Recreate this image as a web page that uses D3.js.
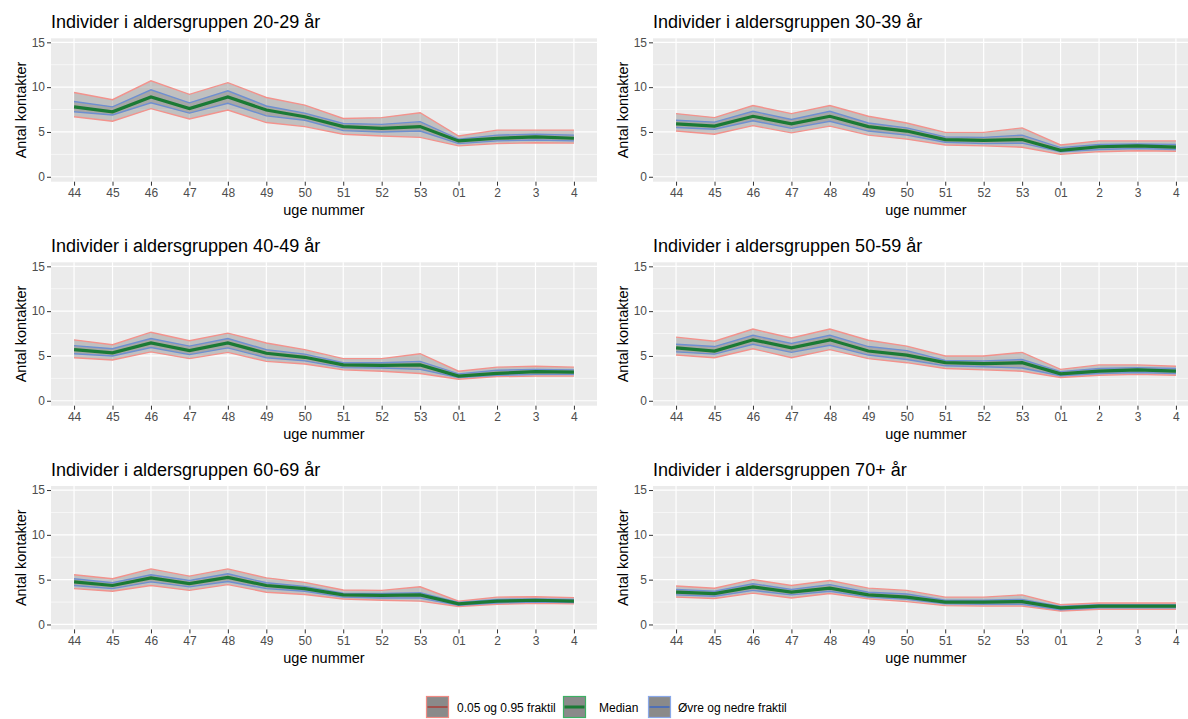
<!DOCTYPE html>
<html>
<head>
<meta charset="utf-8">
<script src="https://cdn.jsdelivr.net/npm/d3@7"></script>
<style>
  body { margin: 0; background: #fff; }
  svg { display: block; font-family: "Liberation Sans", Arial, sans-serif; }
</style>
</head>
<body>
<script>
const weeks = ["44", "45", "46", "47", "48", "49", "50", "51", "52", "53", "01", "2", "3", "4"];
const groups = ["20-29", "30-39", "40-49", "50-59", "60-69", "70+"];
const yTicks = [0, 5, 10, 15];

// 0.95 fraktil
const p95 = [
  [9.4, 8.6, 10.7, 9.2, 10.5, 8.85, 8.0, 6.5, 6.6, 7.15, 4.55, 5.2, 5.2, 5.2],
  [7.05, 6.6, 7.95, 7.05, 7.95, 6.75, 6.0, 4.95, 4.95, 5.45, 3.55, 4.0, 4.0, 4.0],
  [6.8, 6.25, 7.65, 6.7, 7.55, 6.45, 5.7, 4.7, 4.7, 5.25, 3.3, 3.75, 3.85, 3.75],
  [7.1, 6.65, 8.0, 7.0, 8.0, 6.75, 6.1, 5.0, 5.0, 5.4, 3.5, 4.0, 4.0, 3.85],
  [5.55, 5.1, 6.2, 5.4, 6.2, 5.2, 4.7, 3.85, 3.8, 4.2, 2.6, 3.05, 3.1, 3.0],
  [4.3, 4.05, 5.0, 4.35, 4.9, 4.05, 3.8, 3.05, 3.05, 3.3, 2.2, 2.4, 2.4, 2.4]
];
// øvre fraktil
const q75 = [
  [8.4, 7.8, 9.7, 8.25, 9.6, 7.9, 7.1, 5.95, 5.85, 6.15, 4.2, 4.65, 4.75, 4.65],
  [6.3, 6.1, 7.3, 6.4, 7.3, 6.0, 5.45, 4.45, 4.4, 4.65, 3.25, 3.6, 3.65, 3.6],
  [6.15, 5.8, 6.95, 6.1, 6.95, 5.7, 5.2, 4.25, 4.25, 4.4, 3.0, 3.4, 3.5, 3.45],
  [6.3, 6.05, 7.3, 6.4, 7.3, 6.05, 5.6, 4.5, 4.45, 4.6, 3.25, 3.6, 3.7, 3.6],
  [5.1, 4.65, 5.55, 4.9, 5.65, 4.65, 4.25, 3.5, 3.45, 3.55, 2.45, 2.8, 2.85, 2.8],
  [3.9, 3.7, 4.55, 3.9, 4.45, 3.6, 3.4, 2.7, 2.7, 2.8, 2.0, 2.2, 2.2, 2.2]
];
// median
const median = [
  [7.8, 7.25, 8.9, 7.6, 8.9, 7.45, 6.7, 5.6, 5.4, 5.6, 4.0, 4.3, 4.45, 4.3],
  [5.9, 5.65, 6.75, 5.9, 6.75, 5.6, 5.1, 4.15, 4.05, 4.15, 2.95, 3.35, 3.45, 3.3],
  [5.7, 5.35, 6.45, 5.6, 6.45, 5.3, 4.85, 4.0, 3.95, 4.0, 2.75, 3.05, 3.25, 3.2],
  [5.9, 5.55, 6.8, 5.9, 6.8, 5.55, 5.1, 4.25, 4.15, 4.25, 3.0, 3.3, 3.45, 3.3],
  [4.75, 4.35, 5.2, 4.55, 5.25, 4.35, 4.0, 3.3, 3.25, 3.3, 2.3, 2.6, 2.7, 2.6],
  [3.6, 3.45, 4.2, 3.6, 4.05, 3.3, 3.05, 2.5, 2.5, 2.55, 1.85, 2.05, 2.05, 2.05]
];
// nedre fraktil
const q25 = [
  [7.25, 6.9, 8.25, 7.1, 8.2, 6.8, 6.3, 5.15, 5.0, 5.1, 3.7, 4.0, 4.1, 4.0],
  [5.5, 5.3, 6.25, 5.4, 6.2, 5.1, 4.65, 3.85, 3.7, 3.75, 2.8, 3.05, 3.15, 3.05],
  [5.25, 5.0, 5.95, 5.15, 5.9, 4.8, 4.45, 3.7, 3.65, 3.5, 2.6, 2.85, 2.95, 2.95],
  [5.45, 5.2, 6.3, 5.4, 6.2, 5.1, 4.6, 3.9, 3.8, 3.65, 2.8, 3.05, 3.15, 3.05],
  [4.35, 4.0, 4.75, 4.2, 4.8, 4.0, 3.7, 3.05, 2.95, 2.95, 2.15, 2.4, 2.5, 2.45],
  [3.3, 3.15, 3.8, 3.3, 3.7, 3.05, 2.8, 2.3, 2.25, 2.25, 1.65, 1.85, 1.85, 1.85]
];
// 0.05 fraktil
const p05 = [
  [6.7, 6.2, 7.6, 6.45, 7.45, 6.05, 5.6, 4.75, 4.55, 4.4, 3.45, 3.7, 3.8, 3.75],
  [5.1, 4.75, 5.7, 4.9, 5.65, 4.65, 4.2, 3.55, 3.45, 3.3, 2.5, 2.8, 2.9, 2.85],
  [4.8, 4.55, 5.45, 4.7, 5.4, 4.4, 4.1, 3.45, 3.3, 3.05, 2.4, 2.7, 2.75, 2.75],
  [5.1, 4.8, 5.8, 4.8, 5.7, 4.7, 4.25, 3.6, 3.45, 3.3, 2.6, 2.85, 2.95, 2.85],
  [4.0, 3.7, 4.35, 3.8, 4.45, 3.6, 3.35, 2.85, 2.7, 2.6, 2.0, 2.25, 2.35, 2.3],
  [3.05, 2.9, 3.5, 2.95, 3.45, 2.85, 2.55, 2.1, 2.05, 2.05, 1.5, 1.7, 1.7, 1.7]
];

const legendLabels = ["0.05 og 0.95 fraktil", "Median", "Øvre og nedre fraktil"];

const width = 1188, height = 719;
const colLeft = [51, 653];
const panelW = 546, panelH = 143.4;
const rowTop = [38.3, 262.3, 486];

const red = "#f3928c", blue = "#6f8fd0", green = "#1b7a35";

const svg = d3.select("body").append("svg")
  .attr("width", width).attr("height", height);
svg.append("rect").attr("width", width).attr("height", height).attr("fill", "#fff");

groups.forEach((g, gi) => {
  const left = colLeft[gi % 2];
  const top = rowTop[Math.floor(gi / 2)];

  const x = d3.scalePoint().domain(weeks).range([left, left + panelW]).padding(0.6);
  const y = d3.scaleLinear().domain([-0.55, 15.45]).range([top + panelH, top]);

  const p = svg.append("g");

  p.append("rect")
    .attr("x", left).attr("y", top)
    .attr("width", panelW).attr("height", panelH)
    .attr("fill", "#ebebeb");

  // minor grid
  p.selectAll(".minor").data([2.5, 7.5, 12.5]).join("line")
    .attr("x1", left).attr("x2", left + panelW)
    .attr("y1", d => y(d)).attr("y2", d => y(d))
    .attr("stroke", "#fff").attr("stroke-width", 0.6);
  // major grid
  p.selectAll(".hmajor").data(yTicks).join("line")
    .attr("x1", left).attr("x2", left + panelW)
    .attr("y1", d => y(d)).attr("y2", d => y(d))
    .attr("stroke", "#fff").attr("stroke-width", 1.2);
  p.selectAll(".vmajor").data(weeks).join("line")
    .attr("x1", d => x(d)).attr("x2", d => x(d))
    .attr("y1", top).attr("y2", top + panelH)
    .attr("stroke", "#fff").attr("stroke-width", 1.2);

  const idx = d3.range(weeks.length);
  const outer = d3.area().x(i => x(weeks[i])).y0(i => y(p05[gi][i])).y1(i => y(p95[gi][i]));
  const inner = d3.area().x(i => x(weeks[i])).y0(i => y(q25[gi][i])).y1(i => y(q75[gi][i]));
  const line = arr => d3.line().x(i => x(weeks[i])).y(i => y(arr[i]))(idx);

  p.append("path").attr("d", outer(idx)).attr("fill", "#808080").attr("fill-opacity", 0.4);
  p.append("path").attr("d", inner(idx)).attr("fill", "#808080").attr("fill-opacity", 0.4);

  [p05[gi], p95[gi]].forEach(a => p.append("path").attr("d", line(a))
    .attr("fill", "none").attr("stroke", red).attr("stroke-width", 1.4));
  [q25[gi], q75[gi]].forEach(a => p.append("path").attr("d", line(a))
    .attr("fill", "none").attr("stroke", blue).attr("stroke-width", 1.4));
  p.append("path").attr("d", line(median[gi]))
    .attr("fill", "none").attr("stroke", green).attr("stroke-width", 3.2);

  // axes
  const yAxis = d3.axisLeft(y).tickValues(yTicks).tickSize(4).tickPadding(2);
  p.append("g").attr("transform", `translate(${left},0)`).call(yAxis)
    .call(a => a.select(".domain").remove())
    .call(a => a.selectAll("line").attr("stroke", "#333"))
    .call(a => a.selectAll("text").attr("fill", "#4d4d4d").attr("font-size", 12)
      .attr("font-family", "Liberation Sans, Arial, sans-serif"));

  const xAxis = d3.axisBottom(x).tickSize(4).tickPadding(3);
  p.append("g").attr("transform", `translate(0,${top + panelH})`).call(xAxis)
    .call(a => a.select(".domain").remove())
    .call(a => a.selectAll("line").attr("stroke", "#333"))
    .call(a => a.selectAll("text").attr("fill", "#4d4d4d").attr("font-size", 12)
      .attr("font-family", "Liberation Sans, Arial, sans-serif"));

  p.append("text")
    .attr("x", left + panelW / 2).attr("y", top + panelH + 33.5)
    .attr("text-anchor", "middle").attr("font-size", 14.5).attr("fill", "#000")
    .text("uge nummer");

  p.append("text")
    .attr("transform", `translate(${left - 25.5},${top + panelH / 2}) rotate(-90)`)
    .attr("text-anchor", "middle").attr("font-size", 14.5).attr("fill", "#000")
    .text("Antal kontakter");

  p.append("text")
    .attr("x", left).attr("y", top - 10)
    .attr("font-size", 18).attr("fill", "#000")
    .text(`Individer i aldersgruppen ${g} år`);
});

// legend
const keyX = [426, 563, 648];
const textX = [457, 599, 678];
const keyBorder = ["#f08a84", "#3cb063", "#8aa8e8"];
const keyLine = ["#a2504c", green, "#4f6fb5"];
const legend = svg.append("g");
legendLabels.forEach((lab, i) => {
  legend.append("rect")
    .attr("x", keyX[i] + 0.5).attr("y", 696.5)
    .attr("width", 22).attr("height", 21)
    .attr("fill", "#8a8a8a").attr("stroke", keyBorder[i]).attr("stroke-width", 1.2);
  legend.append("line")
    .attr("x1", keyX[i] + 1.5).attr("x2", keyX[i] + 21.5)
    .attr("y1", 707).attr("y2", 707)
    .attr("stroke", keyLine[i]).attr("stroke-width", i === 1 ? 3 : 2);
  legend.append("text")
    .attr("x", textX[i]).attr("y", 711.5)
    .attr("font-size", 12).attr("fill", "#000")
    .text(lab);
});
</script>
</body>
</html>
